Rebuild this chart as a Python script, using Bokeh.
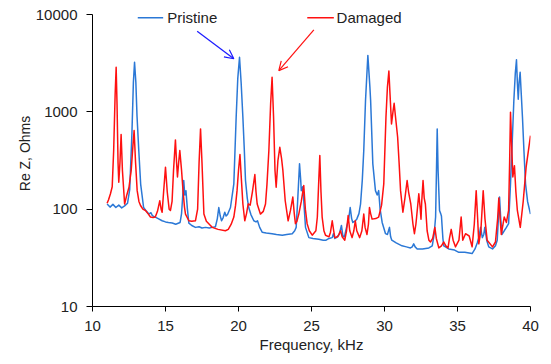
from bokeh.plotting import figure
from bokeh.models import (ColumnDataSource, Range1d, FixedTicker, Arrow, OpenHead, Label)
from bokeh.embed import file_html
from bokeh.resources import INLINE

# ---------------- data ----------------
pristine_freq = [11.0, 11.2, 11.4, 11.6, 11.8, 12.0, 12.2, 12.4, 12.55, 12.7, 12.8, 12.88, 12.97, 13.05,
                 13.17, 13.3, 13.5, 13.7, 13.86, 14.0, 14.1, 14.3, 14.5, 14.77, 15.0, 15.2, 15.46, 15.7,
                 16.0, 16.1, 16.25, 16.32, 16.4, 16.5, 16.6, 16.8, 17.05, 17.3, 17.5, 17.74, 18.0, 18.2,
                 18.42, 18.55, 18.65, 18.75, 18.84, 18.95, 19.06, 19.15, 19.25, 19.45, 19.6, 19.68, 19.76,
                 19.84, 19.95, 20.07, 20.18, 20.3, 20.4, 20.48, 20.6, 20.7, 20.85, 21.05, 21.2, 21.3, 21.45,
                 21.62, 21.9, 22.3, 22.6, 23.0, 23.3, 23.68, 23.85, 23.95, 24.05, 24.18, 24.26, 24.3, 24.4,
                 24.45, 24.59, 24.82, 25.1, 25.5, 25.8, 26.0, 26.2, 26.42, 26.5, 26.6, 26.7, 26.9, 27.05,
                 27.15, 27.25, 27.4, 27.55, 27.65, 27.75, 27.83, 28.0, 28.1, 28.25, 28.36, 28.48, 28.58,
                 28.7, 28.86, 29.0, 29.05, 29.2, 29.38, 29.5, 29.6, 29.7, 29.84, 30.07, 30.2, 30.34, 30.42,
                 30.5, 30.8, 31.2, 31.5, 31.78, 31.9, 32.0, 32.1, 32.24, 32.6, 33.04, 33.27, 33.4, 33.5,
                 33.56, 33.61, 33.67, 33.77, 33.85, 33.9, 34.0, 34.06, 34.4, 34.8, 35.09, 35.5, 36.0, 36.2,
                 36.35, 36.46, 36.58, 36.7, 36.8, 36.87, 37.0, 37.14, 37.4, 37.6, 37.72, 37.8, 37.88, 37.96,
                 38.05, 38.2, 38.35, 38.5, 38.63, 38.75, 38.86, 38.96, 39.04, 39.1, 39.16, 39.22, 39.29,
                 39.37, 39.45, 39.55, 39.66, 39.8, 40.0]
pristine_rez = [113, 105, 112, 104, 110, 103, 108, 115, 160, 600, 2000, 3230, 2000, 900,
                400, 180, 104, 95, 89, 92, 86, 83, 80, 76, 74, 73, 72, 70,
                73, 90, 197, 140, 155, 100, 72, 68, 65, 66, 64, 65, 64, 65,
                66, 80, 104, 85, 76, 82, 93, 85, 88, 104, 150, 182, 400,
                880, 2200, 3640, 2000, 880, 400, 197, 130, 104, 88, 76, 74, 76, 65,
                58, 57, 56, 55, 54, 55, 56, 60, 65, 120, 292, 200, 155, 170,
                135, 65, 51, 50, 49, 48, 48, 50, 51, 56, 50, 51, 55, 68,
                53, 52, 65, 80, 104, 80, 73, 76, 79, 90, 113, 200, 400,
                1306, 3800, 1800, 1306, 292, 155, 140, 155, 100, 73, 56, 55, 65, 52,
                48, 45, 42, 41, 40, 41, 44, 41, 39, 39, 40, 42, 55, 83,
                250, 668, 250, 97, 90, 85, 50, 42, 39, 38, 36, 36, 35, 39,
                45, 51, 65, 51, 55, 65, 48, 41, 39, 42, 48, 80, 133, 80,
                55, 60, 65, 71, 182, 500, 1306, 2500, 3420, 2000, 1350, 2000, 2550,
                1500, 880, 400, 182, 120, 89]

damaged_freq = [11.0, 11.1, 11.23, 11.35, 11.45, 11.55, 11.62, 11.68, 11.75, 11.8, 11.88, 11.96, 12.05,
                12.2, 12.35, 12.5, 12.65, 12.77, 12.85, 12.95, 13.06, 13.18, 13.29, 13.45, 13.63, 13.8,
                13.97, 14.15, 14.3, 14.45, 14.61, 14.7, 14.77, 14.87, 15.0, 15.12, 15.25, 15.34, 15.45,
                15.55, 15.68, 15.76, 15.82, 15.9, 15.98, 16.1, 16.2, 16.3, 16.37, 16.6, 16.8, 17.05, 17.2,
                17.3, 17.4, 17.5, 17.63, 17.8, 18.08, 18.2, 18.6, 19.1, 19.3, 19.5, 19.68, 19.8, 19.9,
                20.0, 20.1, 20.2, 20.3, 20.43, 20.55, 20.66, 20.8, 20.95, 21.12, 21.2, 21.28, 21.5, 21.7,
                21.85, 21.95, 22.08, 22.2, 22.3, 22.4, 22.5, 22.58, 22.7, 22.83, 22.95, 23.04, 23.2, 23.4,
                23.56, 23.72, 23.82, 23.9, 24.0, 24.13, 24.3, 24.47, 24.58, 24.7, 24.85, 25.05, 25.3, 25.4,
                25.5, 25.57, 25.65, 25.73, 25.85, 25.96, 26.2, 26.3, 26.42, 26.52, 26.6, 26.8, 26.99, 27.1,
                27.28, 27.4, 27.51, 27.62, 27.78, 27.9, 28.0, 28.1, 28.3, 28.45, 28.58, 28.67, 28.8, 28.9,
                28.97, 29.05, 29.15, 29.4, 29.6, 29.8, 29.95, 30.1, 30.2, 30.3, 30.38, 30.48, 30.58, 30.66,
                30.75, 30.9, 31.0, 31.1, 31.26, 31.4, 31.55, 31.65, 31.8, 31.95, 32.05, 32.15, 32.2, 32.35,
                32.45, 32.5, 32.55, 32.64, 32.72, 32.8, 32.92, 33.04, 33.15, 33.3, 33.45, 33.55, 33.72,
                33.9, 34.06, 34.2, 34.35, 34.45, 34.57, 34.7, 34.86, 35.1, 35.25, 35.32, 35.36, 35.55, 35.8,
                36.0, 36.15, 36.28, 36.38, 36.46, 36.6, 36.76, 36.88, 37.03, 37.4, 37.6, 37.75, 37.83,
                37.92, 38.0, 38.2, 38.35, 38.5, 38.57, 38.63, 38.7, 38.79, 38.9, 39.0, 39.1, 39.3, 39.5,
                39.7, 40.0]
damaged_rez = [115, 125, 144, 170, 400, 1500, 2870, 1200, 300, 189, 300, 585, 250,
               113, 140, 168, 250, 450, 643, 300, 155, 120, 109, 100, 97, 90,
               83, 82, 83, 95, 122, 100, 93, 150, 270, 150, 100, 97, 120,
               250, 515, 300, 214, 300, 400, 250, 155, 105, 89, 76, 75, 76, 100,
               300, 668, 300, 89, 75, 68, 65, 62, 60, 62, 70, 83, 110, 155,
               250, 364, 200, 113, 76, 90, 113, 110, 150, 227, 150, 113, 89, 95,
               113, 180, 400, 1200, 2270, 900, 250, 168, 316, 432, 330, 250, 122, 76,
               97, 133, 90, 71, 75, 89, 120, 175, 100, 71, 60, 54, 60, 83,
               200, 355, 150, 83, 60, 54, 52, 58, 76, 60, 51, 52, 60, 52,
               48, 60, 86, 60, 51, 60, 76, 60, 51, 60, 89, 65, 55, 70,
               104, 90, 79, 80, 83, 110, 182, 880, 1800, 2620, 1500, 750, 1000, 1225,
               900, 548, 300, 155, 93, 130, 197, 150, 113, 70, 56, 70, 83, 144,
               100, 79, 120, 197, 130, 113, 60, 48, 46, 50, 65, 50, 40,
               42, 46, 42, 40, 50, 62, 48, 41, 48, 83, 60, 48, 56, 53,
               41, 70, 155, 80, 44, 60, 155, 80, 48, 41, 46, 80, 130,
               80, 55, 83, 73, 97, 300, 990, 500, 214, 280, 150, 97, 65, 120,
               270, 570]

series_names = ["Pristine", "Damaged"]
series_colors = ["#2b78d6", "#ff1010"]
arrow_colors = ["#1a1aff", "#ff1010"]

x_ticks = [10, 15, 20, 25, 30, 35, 40]
x_tick_labels = ["10", "15", "20", "25", "30", "35", "40"]
y_ticks = [10, 100, 1000, 10000]
y_tick_labels = ["10", "100", "1000", "10000"]

# key entries: (sample x start, sample x end, label x, y) in data units
key_pos = [(13.10, 14.84, 15.12, 9250), (24.71, 26.53, 26.72, 9250)]
# annotation arrows: (x_start, y_start, x_end, y_end) in data units
arrow_pos = [(17.17, 6730, 19.68, 3510), (25.16, 6960, 22.76, 2650)]

FONT = "Liberation Sans"
TXT = "#222222"

# frame reaches the top edge so the key is not clipped; the axis itself is bounded 10..10000
H, BOTTOM, AXIS_TOP = 364, 58, 14
frame_h = H - BOTTOM
y_top = 10 ** (1 + 3 * frame_h / (frame_h - AXIS_TOP))

p = figure(width=551, height=H, output_backend="svg", toolbar_location=None,
           y_axis_type="log", x_range=Range1d(10, 40), y_range=Range1d(10, y_top),
           min_border_left=92, min_border_right=21, min_border_top=0, min_border_bottom=BOTTOM,
           x_axis_label="Frequency, kHz", y_axis_label="Re Z, Ohms")
p.outline_line_color = None
p.grid.visible = False
p.background_fill_color = "white"
p.border_fill_color = "white"

src_p = ColumnDataSource(dict(x=pristine_freq, y=pristine_rez))
src_d = ColumnDataSource(dict(x=damaged_freq, y=damaged_rez))
r_p = p.line("x", "y", source=src_p, line_color=series_colors[0], line_width=1.5, line_join="round")
r_d = p.line("x", "y", source=src_d, line_color=series_colors[1], line_width=1.5, line_join="round")

# axes
xa = p.xaxis[0]
xa.ticker = FixedTicker(ticks=x_ticks)
xa.major_label_overrides = {t: l for t, l in zip(x_ticks, x_tick_labels)}
ya = p.yaxis[0]
ya.ticker = FixedTicker(ticks=y_ticks)
ya.major_label_overrides = {t: l for t, l in zip(y_ticks, y_tick_labels)}
ya.bounds = (10, 10000)

for ax in (xa, ya):
    ax.axis_line_color = "black"
    ax.axis_line_width = 1
    ax.major_tick_line_color = "black"
    ax.major_tick_in = 0
    ax.minor_tick_line_color = None
    ax.major_label_text_font = FONT
    ax.major_label_text_font_size = "15px"
    ax.major_label_text_color = TXT
    ax.axis_label_text_font = FONT
    ax.axis_label_text_font_style = "normal"
    ax.axis_label_text_color = TXT
    ax.major_label_standoff = 9
xa.major_tick_out = 5
ya.major_tick_out = 6
xa.axis_label_text_font_size = "15px"
ya.axis_label_text_font_size = "14px"
xa.axis_label_standoff = 2
ya.axis_label_standoff = 0

# arrows
for (xs, ys, xe, ye), c in zip(arrow_pos, arrow_colors):
    p.add_layout(Arrow(x_start=xs, y_start=ys, x_end=xe, y_end=ye, line_color=c, line_width=1.2,
                       end=OpenHead(size=9, line_color=c, line_width=1.2)))

# key: line sample + text for each series
for name, c, (x0, x1, xl, yk) in zip(series_names, series_colors, key_pos):
    p.add_layout(Arrow(x_start=x0, y_start=yk, x_end=x1, y_end=yk, line_color=c, line_width=1.6,
                       end=None))
    p.add_layout(Label(x=xl, y=yk, text=name, text_font=FONT, text_font_size="15px",
                       text_color=TXT, text_baseline="middle", text_align="left"))

open("out.html", "w").write(file_html(p, INLINE))
